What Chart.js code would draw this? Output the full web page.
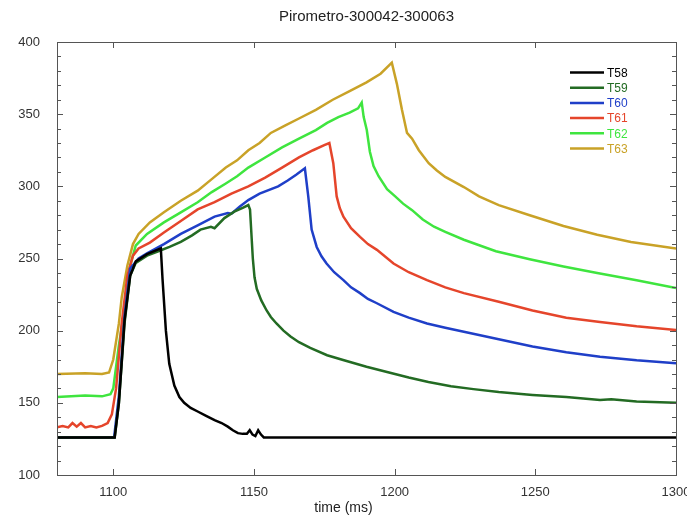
<!DOCTYPE html>
<html>
<head>
<meta charset="utf-8">
<script src="https://cdn.jsdelivr.net/npm/chart.js@4/dist/chart.umd.min.js"></script>
<style>
  html, body { margin: 0; padding: 0; background: #fff; }
  #wrap { width: 687px; height: 516px; }
</style>
</head>
<body>
<div id="wrap"><canvas id="pirochart"></canvas></div>
<script>
"use strict";

/* data: [time ms, temperature] */
var seriesNames = ['T58', 'T59', 'T60', 'T61', 'T62', 'T63'];
var seriesColors = ['#000000', '#236b23', '#1f3fc8', '#e5452b', '#3fe53f', '#c9a227'];

var T58 = [[1080,126],[1100.5,126],[1102,150],[1104,207],[1106,238],[1108,248],[1112,253],[1116.9,257],
    [1117.5,236],[1118.7,200],[1119.9,177],[1121.7,162],[1123.5,154],[1125.2,150],[1127.5,146.5],
    [1130,144],[1133,141],[1136,138],[1138.5,136],[1140.7,133.5],[1142.5,131],[1144.3,129],[1146,128.5],
    [1147.5,128.5],[1148.5,131],[1149.5,128],[1150.5,127],[1151.5,131],[1152.5,128],[1153.5,126],[1300,126]];

var T59 = [[1080,126],[1100.5,126],[1102,150],[1104,205],[1106,238],[1108,247],[1112,252],[1116,255],
    [1120,258],[1124,261.5],[1128,266],[1131,270],[1134.7,272],[1136,271],[1139.5,278],[1143,282.5],
    [1146,285],[1148,287],[1148.6,284],[1149.6,250],[1150.2,237],[1151,229],[1152.6,221],[1154.5,214],
    [1156,209.5],[1158,205],[1160.5,200],[1163,196],[1166,192],[1170,188],[1176,183],[1182,179.5],
    [1190,175],[1198,171],[1205,167.5],[1212,164.5],[1220,161.5],[1228,159.5],[1237,157.5],[1249,155.5],
    [1261,154],[1273,152],[1277,152.5],[1286,151],[1300,150]];

var T60 = [[1080,126],[1100.3,126],[1102,155],[1104,210],[1106,243],[1109,250],[1112,253.5],[1118,260],
    [1124,267],[1130,273],[1136,279],[1140.7,281.5],[1142,281],[1145,286],[1148,290.5],[1152,295],
    [1158.6,300],[1162,304],[1165,308],[1168.1,312.5],[1169.3,293],[1170.5,270],[1172.3,258],[1174,251.5],
    [1175.8,246.5],[1178.5,240.5],[1181.8,235],[1184.5,230],[1187.7,226],[1190.5,222],[1193.7,219],
    [1199.6,213],[1205,209],[1211.5,205],[1218,202],[1224.6,199.2],[1237,194],[1249,189],[1261,185],
    [1273,182],[1286,179.5],[1300,177.5]];

var T61 = [[1080,133],[1082,134],[1084,133],[1085.5,136],[1087,133.5],[1088.5,136],[1090,133],[1092,134],
    [1094,133],[1096,134],[1098,136],[1099.5,142],[1101,160],[1103,205],[1105,238],[1107,252],[1109,257],
    [1113,261],[1118,268],[1124,276],[1130,284],[1136,289],[1142,295],[1148,300],[1154,306],[1160,313],
    [1166,320],[1171,325],[1175,328.5],[1176.8,330],[1178.2,316],[1179.4,293],[1180.5,285],[1181.8,279],
    [1184.5,271],[1187.7,265],[1190.5,260],[1193.7,256],[1199.6,246.5],[1205,240.5],[1211.5,235],
    [1218,230],[1224.6,226],[1237,220],[1249,214],[1261,209],[1273,206],[1286,203],[1300,200.5]];

var T62 = [[1080,154],[1090,155],[1096,154.5],[1099,156],[1100,160],[1102,190],[1104,215],[1106,245],
    [1108,259],[1112,267],[1118,275],[1124,282],[1130,289],[1135,296],[1140,302],[1144,307],[1148,313],
    [1154,320],[1160,327],[1166,333],[1172,339],[1176,344],[1180,348],[1184,351],[1187,354],[1188.3,358],
    [1189,348],[1190.1,339],[1191.2,324],[1192.5,314],[1194.3,307],[1197.3,298],[1200.2,293],[1203,288],
    [1206.2,283.5],[1210,277],[1214,272],[1218,268.5],[1224.6,263],[1236,255],[1248,249.5],[1260,244.5],
    [1272,240],[1286,235],[1300,229.5]];

var T63 = [[1080,170],[1090,170.5],[1096,170],[1098.5,171],[1100,180],[1102,205],[1103,223],[1105,245],
    [1107,260],[1109,267],[1113,275],[1118,282],[1124,290],[1130,297],[1135,305],[1140,313],[1144,318],
    [1148,325],[1152,330],[1156,337],[1161,342],[1166,347],[1172,353],[1178,360],[1184,366],[1190,372],
    [1195,378],[1199,385.7],[1200.8,371],[1202.6,353],[1204.4,337],[1206.2,333],[1208.6,325],[1212.1,316],
    [1215,311],[1218,306.5],[1224.6,299.5],[1230,293],[1237,287],[1248,280],[1260,272.5],[1272,266.5],
    [1284,261.5],[1300,257]];

var xMin = 1080, xMax = 1300, xStep = 50, xFirstTick = 1100;
var yMin = 100, yMax = 400, yStep = 50, yMinorStep = 10;
var xTitle = 'time (ms)';

var allSeries = [T58, T59, T60, T61, T62, T63];
var fontFamily = '"Liberation Sans", Arial, sans-serif';

function toPoints(arr) {
    return arr.map(function (p) { return { x: p[0], y: p[1] }; });
}

/* frame with inside ticks, like the original plot */
var framePlugin = {
    id: 'frame',
    afterDraw: function (chart) {
        var ctx = chart.ctx;
        var a = chart.chartArea;
        var xs = chart.scales.x;
        var ys = chart.scales.y;
        ctx.save();
        ctx.strokeStyle = '#555';
        ctx.lineWidth = 1;
        ctx.strokeRect(Math.round(a.left) + 0.5, Math.round(a.top) + 0.5,
            Math.round(a.right - a.left), Math.round(a.bottom - a.top));
        ctx.beginPath();
        xs.ticks.forEach(function (t) {
            var px = Math.round(xs.getPixelForValue(t.value)) + 0.5;
            ctx.moveTo(px, a.bottom); ctx.lineTo(px, a.bottom - 6);
            ctx.moveTo(px, a.top); ctx.lineTo(px, a.top + 6);
        });
        for (var v = yMin; v <= yMax; v += yMinorStep) {
            var py = Math.round(ys.getPixelForValue(v)) + 0.5;
            var len = (v % yStep === 0) ? 6 : 4;
            ctx.moveTo(a.left, py); ctx.lineTo(a.left + len, py);
            ctx.moveTo(a.right, py); ctx.lineTo(a.right - len, py);
        }
        ctx.stroke();
        /* x axis title, centred on the whole canvas as in the original */
        ctx.fillStyle = '#222';
        ctx.font = '14px ' + fontFamily;
        ctx.textAlign = 'center';
        ctx.textBaseline = 'middle';
        ctx.fillText(xTitle, chart.width / 2, chart.height - 8);
        ctx.restore();
    }
};

/* legend inside plot, top right, coloured labels */
var legendPlugin = {
    id: 'insideLegend',
    afterDatasetsDraw: function (chart) {
        var ctx = chart.ctx;
        var a = chart.chartArea;
        var x0 = a.right - 106;
        var y0 = a.top + 30.5;
        ctx.save();
        ctx.font = '12px ' + fontFamily;
        ctx.textBaseline = 'middle';
        chart.data.datasets.forEach(function (ds, i) {
            var y = y0 + i * 15.2;
            ctx.strokeStyle = ds.borderColor;
            ctx.lineWidth = 2.5;
            ctx.beginPath();
            ctx.moveTo(x0, y); ctx.lineTo(x0 + 34, y);
            ctx.stroke();
            ctx.fillStyle = ds.borderColor;
            ctx.fillText(ds.label, x0 + 37, y + 1);
        });
        ctx.restore();
    }
};

var ctx = document.getElementById('pirochart').getContext('2d');

var piroConfig = {
    type: 'line',
    data: {
        datasets: allSeries.map(function (arr, i) {
            return {
                label: seriesNames[i],
                data: toPoints(arr),
                borderColor: seriesColors[i],
                backgroundColor: seriesColors[i],
                borderWidth: 2.5,
                pointRadius: 0,
                tension: 0,
                fill: false,
            };
        })
    },
    options: {
        animation: false,
        responsive: true,
        maintainAspectRatio: false,
        layout: {
            padding: { left: 0, right: 11, top: 0, bottom: 0 }
        },
        plugins: {
            legend: { display: false },
            tooltip: { enabled: false },
            title: {
                display: true,
                fullSize: false,
                text: 'Pirometro-300042-300063',
                color: '#222',
                font: { family: fontFamily, size: 15, weight: 'normal' },
                padding: { top: 8, bottom: 16 },
            },
        },
        scales: {
            x: {
                type: 'linear',
                min: xMin,
                max: xMax,
                grid: { display: false, drawTicks: false },
                border: { display: false },
                afterBuildTicks: function (scale) {
                    var t = [];
                    for (var v = xFirstTick; v <= xMax; v += xStep) t.push({ value: v });
                    scale.ticks = t;
                },
                ticks: {
                    padding: 10,
                    color: '#333',
                    maxRotation: 0,
                    autoSkip: false,
                    callback: function (v) { return String(v); },
                    font: { family: fontFamily, size: 13 },
                },
                afterFit: function (scale) {
                    scale.height = 41;
                    scale.paddingLeft = 0;
                    scale.paddingRight = 0;
                }
            },
            y: {
                min: yMin,
                max: yMax,
                grid: { display: false, drawTicks: false },
                border: { display: false },
                ticks: {
                    stepSize: yStep,
                    padding: 17,
                    color: '#333',
                    font: { family: fontFamily, size: 13 },
                },
                afterFit: function (scale) {
                    scale.width = 57;
                    scale.paddingTop = 0;
                    scale.paddingBottom = 0;
                }
            }
        }
    },
    plugins: [framePlugin, legendPlugin]
};

var piroChart = new Chart(ctx, piroConfig);
</script>
</body>
</html>
